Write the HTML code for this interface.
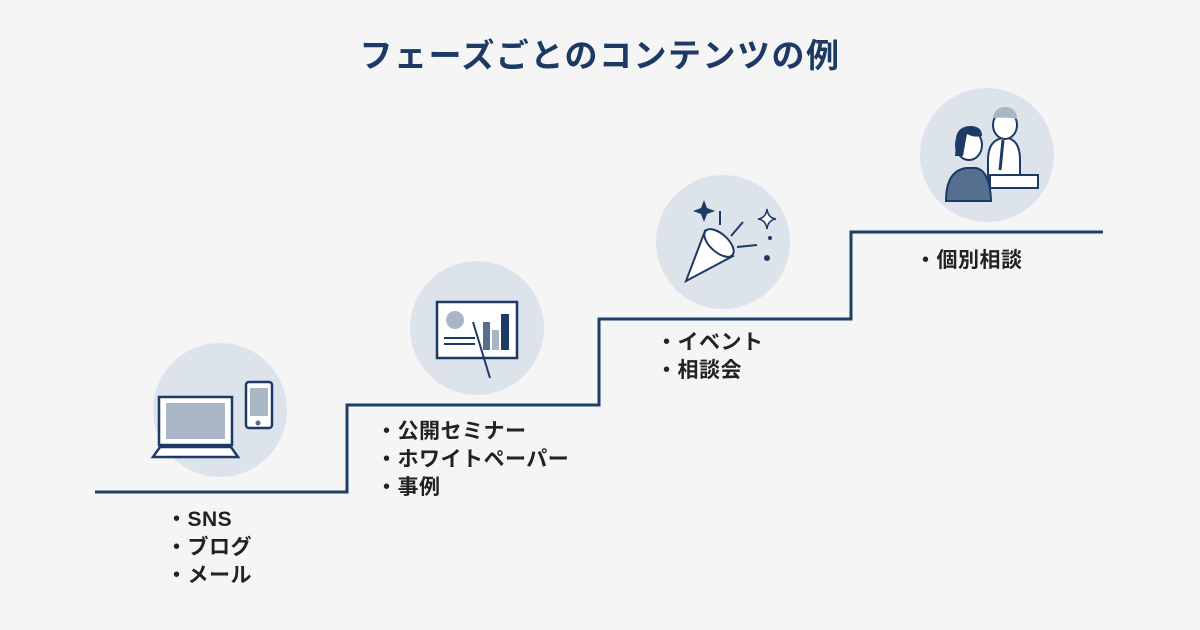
<!DOCTYPE html>
<html><head><meta charset="utf-8"><style>
html,body{margin:0;padding:0;background:#f5f5f5;}
svg{display:block;}
text{font-family:"Liberation Sans","Noto Sans CJK JP",sans-serif;font-weight:bold;}
</style></head><body>
<svg width="1200" height="630" viewBox="0 0 1200 630" xmlns="http://www.w3.org/2000/svg">
<rect width="1200" height="630" fill="#f5f5f5"/>
<text x="600" y="67" text-anchor="middle" font-size="33" letter-spacing="1.5" fill="#1d3a64">フェーズごとのコンテンツの例</text>
<circle cx="220" cy="410" r="67" fill="#dde3ea"/>
<circle cx="477" cy="328" r="67" fill="#dde3ea"/>
<circle cx="723" cy="242" r="67" fill="#dde3ea"/>
<circle cx="987" cy="155" r="67" fill="#dde3ea"/>
<polyline points="95,492 347,492 347,405 599,405 599,319 851,319 851,232 1103,232" fill="none" stroke="#1d3f66" stroke-width="3"/>
<g stroke="#1d3a64" stroke-width="2.5" fill="#fff">
<rect x="159" y="397" width="73" height="48"/>
<polygon points="160,447 231,447 238,457 153,457"/>
<rect x="246" y="382" width="26" height="46" rx="3"/>
</g>
<rect x="166" y="403" width="59" height="36" fill="#a9b6c6"/>
<rect x="250" y="388" width="18" height="28" fill="#a9b6c6"/>
<circle cx="258" cy="423" r="2.5" fill="#55708f"/>
<rect x="437" y="302" width="80" height="56" fill="#fff" stroke="#1d3a64" stroke-width="2.5"/>
<circle cx="455" cy="320" r="9" fill="#a9b6c6"/>
<rect x="483" y="322" width="7" height="28" fill="#55708f"/>
<rect x="492" y="330" width="7" height="20" fill="#a9b6c6"/>
<rect x="501" y="314" width="8" height="36" fill="#1d3a64"/>
<line x1="444" y1="338" x2="475" y2="338" stroke="#1d3a64" stroke-width="2"/>
<line x1="444" y1="344" x2="475" y2="344" stroke="#1d3a64" stroke-width="2"/>
<line x1="473" y1="322" x2="490" y2="378" stroke="#1d3a64" stroke-width="2"/>
<polygon points="686,281 705,231 733,256" fill="#fff" stroke="#1d3a64" stroke-width="2"/>
<ellipse cx="719" cy="243" rx="9" ry="18" transform="rotate(-48 719 243)" fill="#fff" stroke="#1d3a64" stroke-width="2"/>
<path d="M704,200 l3,8 8,3 -8,3 -3,8 -3,-8 -8,-3 8,-3z" fill="#1d3a64"/>
<path d="M767,209 q1,9 9,10 q-8,1 -9,10 q-1,-9 -9,-10 q8,-1 9,-10z" fill="#fff" stroke="#1d3a64" stroke-width="1.5"/>
<line x1="720" y1="211" x2="720" y2="225" stroke="#1d3a64" stroke-width="2"/>
<line x1="731" y1="236" x2="743" y2="222" stroke="#1d3a64" stroke-width="2"/>
<line x1="737" y1="247" x2="757" y2="245" stroke="#1d3a64" stroke-width="2"/>
<circle cx="770" cy="238" r="2" fill="#1d3a64"/>
<circle cx="767" cy="258" r="3" fill="#1d3a64"/>
<g stroke="#1d3a64" stroke-width="2">
<path d="M988,160 q0,-20 15,-22 h4 q13,2 13,22 v20 h-32z" fill="#fff"/>
<ellipse cx="1005" cy="125" rx="12" ry="14" fill="#fff"/>
<rect x="990" y="175" width="48" height="13" fill="#fff"/>
<path d="M946,201 q0,-30 20,-33 h10 q14,3 15,33z" fill="#55708f"/>
<ellipse cx="969" cy="145" rx="13" ry="15" fill="#fff"/>
</g>
<path d="M956,145 q-2,-18 14,-19 q12,0 12,10 q-8,2 -15,-2 q-2,10 -4,22 h-8z" fill="#1d3a64"/>
<path d="M993,118 q2,-12 14,-11 q10,2 10,12 q-10,-2 -24,-1z" fill="#a9b6c6"/>
<line x1="1003" y1="140" x2="1000" y2="170" stroke="#1d3a64" stroke-width="3"/>
<g font-size="21" letter-spacing="0.5" fill="#222">
<text x="166" y="526">・SNS</text>
<text x="166" y="554">・ブログ</text>
<text x="166" y="582">・メール</text>
<text x="376" y="438">・公開セミナー</text>
<text x="376" y="466">・ホワイトペーパー</text>
<text x="376" y="494">・事例</text>
<text x="656" y="349">・イベント</text>
<text x="656" y="377">・相談会</text>
<text x="915" y="267">・個別相談</text>
</g>
</svg>
</body></html>
